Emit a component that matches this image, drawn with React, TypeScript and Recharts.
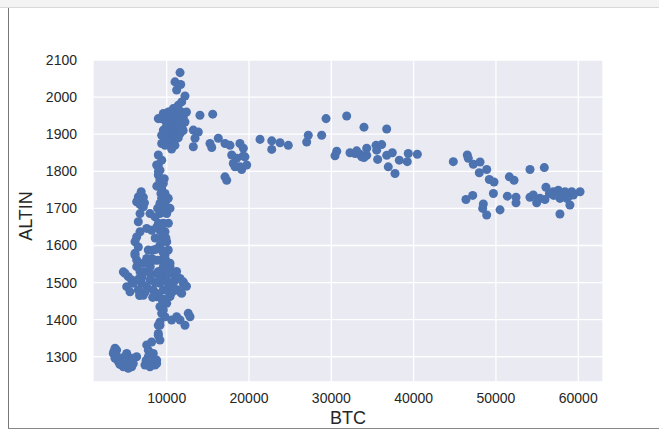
import {
    ScatterChart,
    Scatter,
    XAxis,
    YAxis,
    ZAxis,
    CartesianGrid,
    Label,
} from "recharts";

// [BTC, ALTIN] pairs
const lowBand: [number, number][] = [
    [3720, 1323], [3510, 1309], [3720, 1296], [4130, 1287], [4530, 1278],
    [5140, 1309], [5540, 1296], [4930, 1282], [5750, 1273], [6350, 1300],
    [5940, 1282], [5330, 1269], [4530, 1291], [3920, 1318], [4130, 1291],
    [5750, 1296], [5140, 1278], [4730, 1273], [4330, 1287], [3600, 1315],
    [3800, 1302], [4000, 1300], [4300, 1280], [4900, 1300], [5000, 1290],
    [7760, 1300], [7970, 1282], [8580, 1278], [8780, 1291], [7360, 1278],
    [7970, 1273], [8370, 1309], [8980, 1358], [9180, 1345], [8170, 1340],
    [7570, 1332], [7760, 1318], [8780, 1282], [7500, 1290], [8200, 1295],
];

const riseLow: [number, number][] = [
    [9180, 1435], [9390, 1417], [9790, 1408], [10600, 1399], [11210, 1408],
    [11620, 1399], [12620, 1417], [12830, 1408], [12220, 1385], [9180, 1385],
    [8980, 1363], [9180, 1394], [8980, 1385], [10000, 1444], [9590, 1426],
    [11620, 1475], [10400, 1466], [11820, 1471], [12020, 1498], [11210, 1516],
];

const riseMid: [number, number][] = [
    [4730, 1529], [5330, 1516], [5750, 1507], [5140, 1489], [5540, 1475],
    [4930, 1525], [5940, 1498], [6350, 1543], [6760, 1529], [6960, 1498],
    [6550, 1480], [7160, 1466], [7570, 1489], [7970, 1507], [8370, 1480],
    [8780, 1462], [9180, 1498], [9390, 1516], [9790, 1534], [10400, 1543],
    [10600, 1525], [10190, 1498], [10000, 1480], [11010, 1507], [11620, 1511],
    [12020, 1502], [11410, 1480], [10400, 1462], [7160, 1529], [7970, 1543],
    [8780, 1525], [9590, 1480], [8580, 1500], [7000, 1515], [6600, 1510],
    [9000, 1470], [9800, 1455], [10800, 1490], [11200, 1530], [8100, 1520],
    [7400, 1475], [6700, 1465], [12400, 1490], [8300, 1460], [9400, 1455],
    [10700, 1475], [7800, 1530],
];

const column: [number, number][] = [
    [8980, 1844], [8780, 1817], [8980, 1817], [9180, 1803], [8980, 1790],
    [9180, 1776], [9590, 1767], [9390, 1754], [9790, 1740], [9390, 1727],
    [10190, 1727], [9180, 1713], [9790, 1704], [9180, 1686], [10000, 1686],
    [9590, 1660], [9180, 1641], [9790, 1637], [9390, 1623], [10000, 1610],
    [9180, 1601], [10190, 1588], [9790, 1574], [9390, 1561], [10400, 1552],
    [9590, 1543], [10190, 1529], [9180, 1516], [10000, 1507],
    [6550, 1731], [6960, 1727], [6350, 1718], [7160, 1704], [6760, 1686],
    [6550, 1664], [6760, 1637], [6350, 1623], [6150, 1610], [6550, 1596],
    [6150, 1579], [6350, 1561], [7160, 1552], [7570, 1565], [7760, 1588],
    [8370, 1588], [8170, 1565], [7970, 1543], [7570, 1646], [8170, 1641],
    [7970, 1686], [8580, 1677], [7160, 1730], [6760, 1710], [9600, 1700],
    [9000, 1660], [8600, 1620], [9600, 1580], [8900, 1560], [6150, 1574],
    [10400, 1700], [10200, 1660], [9400, 1830], [9000, 1800], [9700, 1780],
    [8800, 1760], [9300, 1740], [9900, 1720], [8900, 1700], [9600, 1690],
    [8800, 1650], [9400, 1650], [9900, 1620], [9300, 1590], [8700, 1590],
    [9900, 1560], [9000, 1530], [8500, 1560], [6900, 1745], [7300, 1715],
];

const peak: [number, number][] = [
    [11620, 2066], [11010, 2041], [11700, 2034], [11210, 2019], [12220, 2003],
    [11820, 1987], [11410, 1978], [10800, 1969], [10400, 1960], [10000, 1951],
    [9390, 1942], [8980, 1942], [9590, 1956], [10190, 1960], [10800, 1951],
    [11410, 1956], [12020, 1947], [9790, 1938], [10400, 1942], [11010, 1938],
    [11620, 1938], [12220, 1933], [10000, 1924], [10600, 1924], [11210, 1920],
    [11820, 1920], [9590, 1911], [10400, 1906], [11010, 1906], [11620, 1902],
    [10190, 1893], [10800, 1889], [9790, 1897], [9390, 1897], [9790, 1884],
    [9390, 1875], [10600, 1860], [10400, 1880], [11400, 1890], [12000, 1910],
    [11000, 1870], [10100, 1915], [11800, 1960], [12400, 1960], [9800, 1870],
];

const plateau: [number, number][] = [
    [14040, 1951], [15590, 1954], [13230, 1911], [13840, 1906], [13440, 1889],
    [13230, 1866], [15260, 1875], [15470, 1864], [16270, 1889], [17080, 1875],
    [17690, 1870], [18900, 1875], [19310, 1862], [17900, 1844], [18500, 1835],
    [19270, 1841], [18300, 1812], [19110, 1805], [19720, 1817], [18090, 1821],
    [19510, 1839], [17080, 1785], [17290, 1776], [18900, 1812],
    [21340, 1886], [22760, 1882], [23770, 1877], [24770, 1870], [22760, 1859],
    [27200, 1897], [27010, 1879], [28830, 1897], [29360, 1942], [30660, 1854],
    [30450, 1842], [31870, 1949], [32270, 1850], [32880, 1848], [33490, 1846],
    [33080, 1855], [34300, 1862], [33690, 1839], [34300, 1843], [33970, 1837],
    [35430, 1870], [36120, 1872], [35510, 1857], [35630, 1832], [36730, 1843],
    [37410, 1850], [36920, 1812], [37740, 1794], [38260, 1830], [39230, 1826],
    [39350, 1848], [40450, 1846], [33970, 1919], [36730, 1914],
];

const highBand: [number, number][] = [
    [44820, 1826], [46520, 1844], [46640, 1835], [47250, 1819], [48070, 1825],
    [47980, 1796], [48880, 1805], [49200, 1778], [49770, 1771], [51630, 1785],
    [52200, 1776], [54140, 1805], [55880, 1810], [46360, 1724], [47180, 1735],
    [49690, 1740], [48470, 1712], [48390, 1700], [48880, 1682], [50500, 1696],
    [51390, 1733], [52440, 1730], [52440, 1715], [54140, 1730], [54540, 1736],
    [54950, 1715], [55360, 1727], [55960, 1724], [56080, 1757], [56970, 1745],
    [57580, 1749], [57990, 1736], [58400, 1745], [58790, 1731], [59210, 1745],
    [57780, 1727], [58190, 1740], [57380, 1736], [58990, 1709], [57780, 1685],
    [60220, 1745], [59410, 1736], [57000, 1735], [58600, 1727], [56500, 1740],
];

const xTicks = [10000, 20000, 30000, 40000, 50000, 60000];
const yTicks = [1300, 1400, 1500, 1600, 1700, 1800, 1900, 2000, 2100];

const points = [
    ...lowBand,
    ...riseLow,
    ...riseMid,
    ...column,
    ...peak,
    ...plateau,
    ...highBand,
].map(([btc, altin]) => ({ btc, altin }));

const tickStyle = { fontSize: 14, fill: "#262626", fontFamily: "Liberation Sans, Arial, sans-serif" };

function AltinLabel(props: any) {
    const { viewBox } = props;
    const x = viewBox.x + 24;
    const y = viewBox.y + viewBox.height / 2 - 5;
    return (
        <text
            x={x}
            y={y}
            transform={`rotate(-90, ${x}, ${y})`}
            textAnchor="middle"
            fontSize={18}
            fill="#262626"
            fontFamily="Liberation Sans, Arial, sans-serif"
        >
            ALTIN
        </text>
    );
}

export default function App() {
    return (
        <div
            style={{
                position: "absolute",
                left: 0,
                top: 0,
                width: 659,
                height: 435,
                background: "#fff",
                overflow: "hidden",
            }}
        >
            {/* notebook frame bits */}
            <div style={{ position: "absolute", left: 0, top: 0, width: 659, height: 7, background: "#f3f3f3", borderBottom: "1px solid #d8d8d8" }} />
            <div style={{ position: "absolute", left: 8, top: 8, width: 1, height: 421, background: "#777" }} />
            <div style={{ position: "absolute", left: 8, top: 428, width: 651, height: 1, background: "#888" }} />

            <div style={{ position: "absolute", left: 0, top: 0 }}>
                <ScatterChart
                    width={659}
                    height={435}
                    margin={{ top: 60, right: 56, bottom: 8, left: 8 }}
                >
                    <CartesianGrid fill="#EAEAF2" stroke="#ffffff" strokeWidth={1.3} />
                    <XAxis
                        type="number"
                        dataKey="btc"
                        domain={[1045, 63010]}
                        ticks={xTicks}
                        axisLine={false}
                        tickLine={false}
                        tickMargin={5}
                        height={45}
                        tick={tickStyle}
                        allowDataOverflow
                    >
                        <Label
                            value="BTC"
                            position="insideBottom"
                            offset={3}
                            style={{ fontSize: 18, fill: "#262626", fontFamily: "Liberation Sans, Arial, sans-serif" }}
                        />
                    </XAxis>
                    <YAxis
                        type="number"
                        dataKey="altin"
                        domain={[1232, 2100]}
                        ticks={yTicks}
                        axisLine={false}
                        tickLine={false}
                        tickMargin={10}
                        width={85}
                        tick={tickStyle}
                        allowDataOverflow
                    >
                        <Label content={<AltinLabel />} />
                    </YAxis>
                    <ZAxis range={[80, 80]} />
                    <Scatter
                        data={points}
                        fill="#4C72B0"
                        isAnimationActive={false}
                    />
                </ScatterChart>
            </div>
        </div>
    );
}
